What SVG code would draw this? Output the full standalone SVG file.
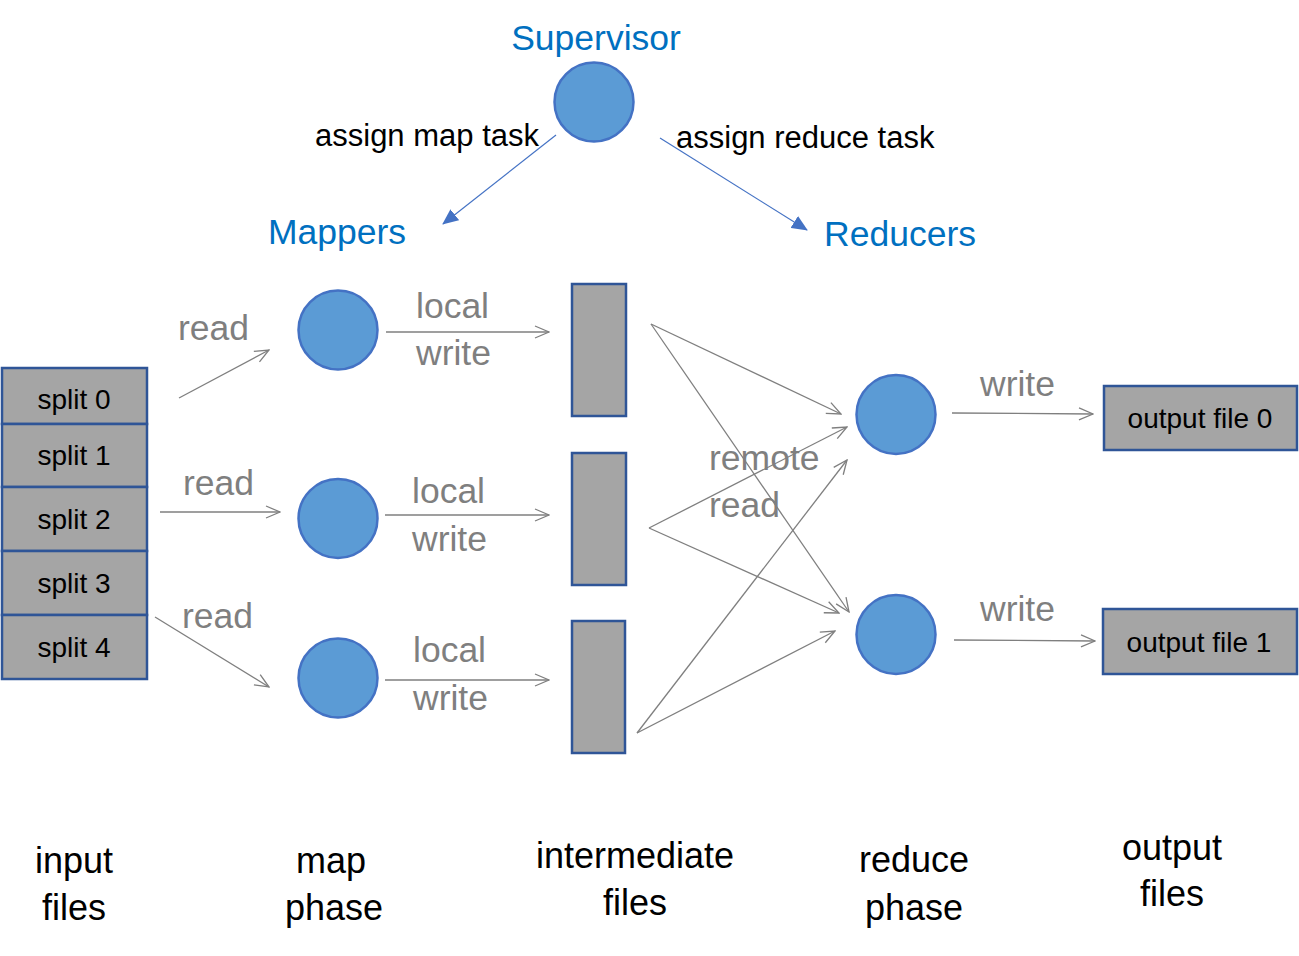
<svg xmlns="http://www.w3.org/2000/svg" width="1299" height="956" viewBox="0 0 1299 956">
<style>
text{font-family:"Liberation Sans",Arial,sans-serif}
.node{fill:#5B9BD5;stroke:#4472C4;stroke-width:2.5}
.box{fill:#A5A5A5;stroke:#2F5597;stroke-width:2.5}
.lbl{fill:#7F7F7F;font-size:35.5px}
.blk{fill:#000;font-size:28px}
.ttl{fill:#0070C0;font-size:35.5px}
.cap{fill:#000;font-size:36px;text-anchor:middle}
.asg{fill:#000;font-size:31px}
.gc{stroke:#7F7F7F;stroke-width:1.3;fill:none;marker-end:url(#open)}
.bc{stroke:#4472C4;stroke-width:1.2;fill:none;marker-end:url(#tri)}
</style>
<defs>
<marker id="open" markerUnits="userSpaceOnUse" viewBox="0 0 16 14" markerWidth="16" markerHeight="14" refX="15" refY="7" orient="auto">
<path d="M1,1 L15,7 L1,13" fill="none" stroke="#7F7F7F" stroke-width="1.3"/>
</marker>
<marker id="tri" markerUnits="userSpaceOnUse" viewBox="0 0 16 14" markerWidth="16" markerHeight="14" refX="15" refY="7" orient="auto">
<path d="M0,0 L16,7 L0,14 Z" fill="#4472C4"/>
</marker>
</defs>

<g id="connectors">
<line class="bc" x1="556" y1="135" x2="443" y2="224"/>
<line class="bc" x1="660" y1="138" x2="807" y2="230"/>
<line class="gc" x1="179" y1="398" x2="269" y2="350"/>
<line class="gc" x1="160" y1="512" x2="280" y2="512"/>
<line class="gc" x1="155" y1="617" x2="269" y2="687"/>
<line class="gc" x1="386" y1="332" x2="549" y2="332"/>
<line class="gc" x1="385" y1="515" x2="549" y2="515"/>
<line class="gc" x1="385" y1="680" x2="549" y2="680"/>
<line class="gc" x1="651" y1="324" x2="841" y2="414"/>
<line class="gc" x1="651" y1="324" x2="849" y2="612"/>
<line class="gc" x1="649" y1="528" x2="847" y2="427"/>
<line class="gc" x1="649" y1="528" x2="839" y2="613"/>
<line class="gc" x1="637" y1="733" x2="847" y2="460"/>
<line class="gc" x1="637" y1="733" x2="835" y2="631"/>
<line class="gc" x1="952" y1="413" x2="1093" y2="414"/>
<line class="gc" x1="954" y1="640" x2="1095" y2="641"/>
<text class="lbl" x="178" y="340">read</text>
<text class="lbl" x="183" y="495">read</text>
<text class="lbl" x="182" y="628">read</text>
<text class="lbl" x="416" y="318">local</text>
<text class="lbl" x="416" y="365">write</text>
<text class="lbl" x="412" y="503">local</text>
<text class="lbl" x="412" y="551">write</text>
<text class="lbl" x="413" y="662">local</text>
<text class="lbl" x="413" y="710">write</text>
<text class="lbl" x="709" y="470">remote</text>
<text class="lbl" x="709" y="517">read</text>
<text class="lbl" x="980" y="396">write</text>
<text class="lbl" x="980" y="621">write</text>
<text class="asg" x="315" y="146">assign map task</text>
<text class="asg" x="676" y="148">assign reduce task</text>
</g>

<g id="supervisor">
<circle class="node" cx="594" cy="102" r="39.5"/>
<text class="ttl" x="596" y="50" text-anchor="middle">Supervisor</text>
</g>
<g id="mappers-label"><text class="ttl" x="337" y="244" text-anchor="middle">Mappers</text></g>
<g id="reducers-label"><text class="ttl" x="900" y="246" text-anchor="middle">Reducers</text></g>

<g id="input-files">
<rect class="box" x="2" y="368" width="145" height="56"/>
<rect class="box" x="2" y="424" width="145" height="63"/>
<rect class="box" x="2" y="487" width="145" height="64"/>
<rect class="box" x="2" y="551" width="145" height="64"/>
<rect class="box" x="2" y="615" width="145" height="64"/>
<text class="blk" x="74" y="409" text-anchor="middle">split 0</text>
<text class="blk" x="74" y="465" text-anchor="middle">split 1</text>
<text class="blk" x="74" y="529" text-anchor="middle">split 2</text>
<text class="blk" x="74" y="593" text-anchor="middle">split 3</text>
<text class="blk" x="74" y="657" text-anchor="middle">split 4</text>
</g>

<g id="mapper0"><circle class="node" cx="338" cy="330" r="39.5"/></g>
<g id="mapper1"><circle class="node" cx="338" cy="518.5" r="39.5"/></g>
<g id="mapper2"><circle class="node" cx="338" cy="678" r="39.5"/></g>

<g id="intermediate0"><rect class="box" x="572" y="284" width="54" height="132"/></g>
<g id="intermediate1"><rect class="box" x="572" y="453" width="54" height="132"/></g>
<g id="intermediate2"><rect class="box" x="572" y="621" width="53" height="132"/></g>

<g id="reducer0"><circle class="node" cx="896" cy="414.5" r="39.5"/></g>
<g id="reducer1"><circle class="node" cx="896" cy="634.5" r="39.5"/></g>

<g id="output0">
<rect class="box" x="1104" y="386" width="193" height="64"/>
<text class="blk" x="1200" y="428" text-anchor="middle" font-size="30.5">output file 0</text>
</g>
<g id="output1">
<rect class="box" x="1103" y="609" width="194" height="65"/>
<text class="blk" x="1199" y="652" text-anchor="middle" font-size="30.5">output file 1</text>
</g>

<g id="captions">
<text class="cap" x="74" y="873">input</text>
<text class="cap" x="74" y="920">files</text>
<text class="cap" x="331" y="873">map</text>
<text class="cap" x="334" y="920">phase</text>
<text class="cap" x="635" y="868">intermediate</text>
<text class="cap" x="635" y="915">files</text>
<text class="cap" x="914" y="872">reduce</text>
<text class="cap" x="914" y="920">phase</text>
<text class="cap" x="1172" y="860">output</text>
<text class="cap" x="1172" y="906">files</text>
</g>
</svg>
